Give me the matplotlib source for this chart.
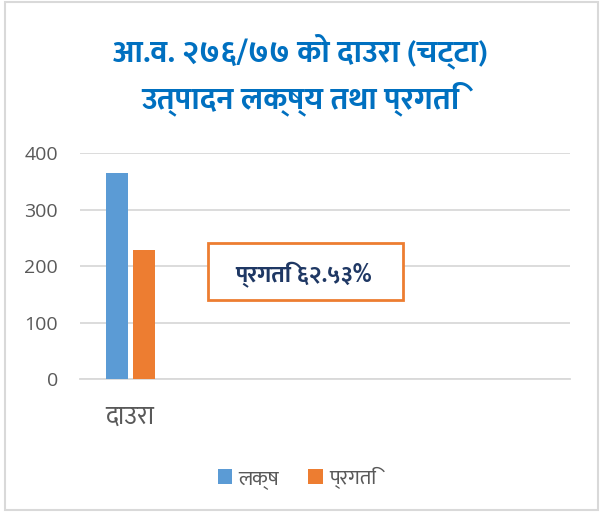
import matplotlib
matplotlib.use("Agg")
import matplotlib.pyplot as plt
from matplotlib.patches import Rectangle

categories = ["दाउरा"]
series_names = ["लक्ष", "प्रगति"]
target = [366]
progress = [228.9]
y_ticks = [0, 100, 200, 300, 400]
title_text = "आ.व. २७६/७७ को दाउरा (चट्टा)\nउत्पादन लक्ष्य तथा प्रगति"
note_text = "प्रगति ६२.५३%"

DEVA = ["Ek Mukta", "DejaVu Sans"]
NUM = ["Open Sans", "DejaVu Sans"]
plt.rcParams['font.family'] = DEVA

W, H = 600, 514
fig = plt.figure(figsize=(W / 100, H / 100), dpi=100)
fig.patch.set_facecolor("white")
fig.add_artist(Rectangle((5 / W, 1 - 510 / H), 593 / W, 508 / H, transform=fig.transFigure,
                         fill=False, edgecolor="#d9d9d9", linewidth=1.5))

ax = fig.add_axes([80 / W, 1 - 379.3 / H, 490 / W, 226 / H])
w = 0.22
off = 0.135
x = list(range(len(categories)))
b1 = ax.bar([i - off for i in x], target, width=w, color="#5b9bd5", label=series_names[0], zorder=3)
b2 = ax.bar([i + off for i in x], progress, width=w, color="#ed7d31", label=series_names[1], zorder=3)
ax.set_xlim(-0.5, 4.4)
ax.set_ylim(0, 400)
ax.set_yticks(y_ticks)
ax.set_xticks(x)
ax.set_xticklabels(categories, fontsize=18.5, color="#595959", family=DEVA)
for lab in ax.get_yticklabels():
    lab.set_family(NUM)
ax.yaxis.grid(True, color="#d9d9d9", linewidth=1.3, zorder=0)
for s in ["top", "right", "left"]:
    ax.spines[s].set_visible(False)
ax.spines["bottom"].set_color("#d9d9d9")
ax.spines["bottom"].set_linewidth(1.3)
ax.tick_params(axis="y", length=0, labelsize=14, labelcolor="#595959", pad=16)
ax.tick_params(axis="x", length=0, pad=18)

fig.text(0.5, 1 - 75 / H, title_text, ha="center", va="center", fontsize=22.5, fontweight="bold",
         color="#0070c0", linespacing=1.45)

fig.add_artist(Rectangle((208 / W, 1 - 300 / H), 195 / W, 57 / H, transform=fig.transFigure,
                         facecolor="white", edgecolor="#ed7d31", linewidth=2, zorder=5))
fig.text(304 / W, 1 - 275 / H, note_text, ha="center", va="center", fontsize=17,
         fontweight="bold", color="#1f3864", zorder=6)

fig.legend(handles=[b1, b2], labels=series_names, loc="center", bbox_to_anchor=(297 / W, 1 - 478 / H),
           ncol=2, frameon=False, prop={"family": DEVA, "size": 15}, handlelength=0.7, handleheight=0.7,
           handletextpad=0.3, columnspacing=1.4, labelcolor="#595959")

fig.savefig("out.png", dpi=100)
